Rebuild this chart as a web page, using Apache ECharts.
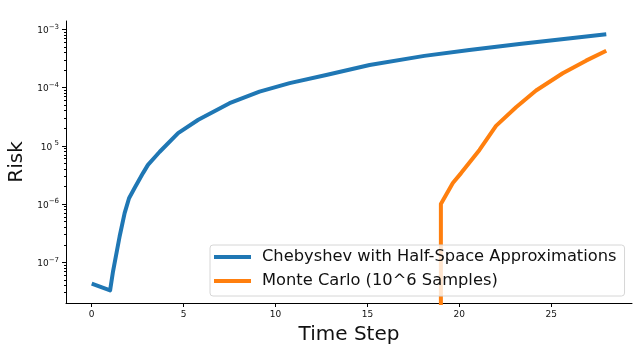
<!DOCTYPE html>
<html>
<head>
<meta charset="utf-8">
<title>Risk over time</title>
<script src="https://cdn.jsdelivr.net/npm/echarts@6/dist/echarts.min.js"></script>
<style>
html, body { margin: 0; padding: 0; background: #fff; }
#main { width: 634px; height: 344px; }
</style>
</head>
<body>
<div id="main"></div>
<script>
// Chebyshev bound (blue)
var chebT    = [0, 1, 1.16, 1.52, 1.79, 2.03, 2.34, 2.79, 3.06, 3.7, 4.7, 5.8, 7.5, 9.13, 10.77, 12.76, 15.12, 18.1, 20.55, 23.27, 28];
var chebRisk = [4.3e-8, 3.3e-8, 7e-8, 2.8e-7, 7e-7, 1.26e-6, 1.9e-6, 3.4e-6, 4.7e-6, 7.9e-6, 1.65e-5, 2.8e-5, 5.4e-5, 8.5e-5, 1.19e-4, 1.64e-4, 2.44e-4, 3.5e-4, 4.4e-4, 5.6e-4, 8.2e-4];

// Monte Carlo estimate (orange): zero until step 19, so the first point sits under the axis floor
var mcT    = [19, 19, 19.65, 20.1, 21.1, 22.0, 23.09, 24.18, 25.63, 26.9, 28];
var mcRisk = [1e-12, 1.0e-6, 2.3e-6, 3.4e-6, 8.5e-6, 2.2e-5, 4.6e-5, 8.9e-5, 1.76e-4, 2.9e-4, 4.3e-4];

var seriesNames = ['Chebyshev with Half-Space Approximations', 'Monte Carlo (10^6 Samples)'];
var xTicks = [0, 5, 10, 15, 20, 25];
var yTicks = [1e-7, 1e-6, 1e-5, 1e-4, 1e-3];
var yTickSup = ['\u22127', '\u22126', ' 5', '\u22124', '\u22123'];

var yMin = 2.0e-8, yMax = 1.39e-3;

// minor ticks 2..9 x 10^k like matplotlib
var yMinor = [];
for (var e = -8; e <= -3; e++) {
    for (var m = 2; m <= 9; m++) {
        var v = m * Math.pow(10, e);
        if (v > yMin && v < yMax) yMinor.push(v);
    }
}

function pairs(xs, ys) {
    var list = [];
    for (var i = 0; i < xs.length; i++) list.push([xs[i], ys[i]]);
    return list;
}

var font = 'DejaVu Sans';
var myChart = echarts.init(document.getElementById('main'));
var option = {
    animation: false,
    textStyle: { fontFamily: font },
    grid: { left: 66, right: 2, top: 21, bottom: 41, outerBoundsMode: 'none', containLabel: false },
    legend: {
        orient: 'vertical',
        left: 210,
        top: 245,
        padding: [3, 8, 6, 4],
        itemGap: 6,
        itemWidth: 37,
        itemHeight: 4,
        icon: 'rect',
        backgroundColor: 'rgba(255,255,255,0.8)',
        borderColor: '#d6d6d6',
        borderWidth: 1,
        borderRadius: 3,
        textStyle: { fontFamily: font, fontSize: 16.3, color: '#111', lineHeight: 18, padding: [0, 0, 0, 6] },
        data: seriesNames
    },
    xAxis: {
        type: 'value',
        min: -1.4,
        max: 29.4,
        splitLine: { show: false },
        axisLine: { onZero: false, lineStyle: { color: '#000', width: 1 } },
        axisTick: { customValues: xTicks, length: 4, lineStyle: { color: '#000' } },
        axisLabel: { customValues: xTicks, margin: 7, fontSize: 9, color: '#111', fontFamily: font },
        name: 'Time Step',
        nameLocation: 'middle',
        nameGap: 22,
        nameTextStyle: { fontSize: 20, color: '#111', fontFamily: font }
    },
    yAxis: [{
        type: 'log',
        logBase: 10,
        min: yMin,
        max: yMax,
        splitLine: { show: false },
        axisLine: { show: true, onZero: false, lineStyle: { color: '#000', width: 1 } },
        axisTick: { customValues: yTicks, length: 4, lineStyle: { color: '#000' } },
        axisLabel: {
            customValues: yTicks,
            margin: 7,
            formatter: function (val) {
                var k = Math.round(Math.log(val) / Math.LN10);
                var idx = yTicks.indexOf(Math.pow(10, k));
                var sup = idx >= 0 ? yTickSup[idx] : String(k);
                return '{b|10}{s|' + sup + '}';
            },
            rich: {
                b: { fontSize: 9, lineHeight: 12, verticalAlign: 'bottom', color: '#111', fontFamily: font },
                s: { fontSize: 7, lineHeight: 12, verticalAlign: 'top', color: '#111', fontFamily: font }
            }
        },
        name: 'Risk',
        nameLocation: 'middle',
        nameGap: 25,
        nameTextStyle: { fontSize: 20, color: '#111', fontFamily: font }
    }, {
        // minor ticks only
        type: 'log',
        logBase: 10,
        min: yMin,
        max: yMax,
        position: 'left',
        splitLine: { show: false },
        axisLine: { show: false, onZero: false },
        axisTick: { customValues: yMinor, length: 2, lineStyle: { color: '#000' } },
        axisLabel: { show: false }
    }],
    series: [{
        name: seriesNames[0],
        type: 'line',
        data: pairs(chebT, chebRisk),
        showSymbol: false,
        clip: true,
        color: '#1f77b4',
        lineStyle: { width: 4, color: '#1f77b4', join: 'round' },
        z: 2
    }, {
        name: seriesNames[1],
        type: 'line',
        data: pairs(mcT, mcRisk),
        showSymbol: false,
        clip: true,
        color: '#ff7f0e',
        lineStyle: { width: 4, color: '#ff7f0e', join: 'round' },
        z: 3
    }]
};
myChart.setOption(option);
</script>
</body>
</html>
